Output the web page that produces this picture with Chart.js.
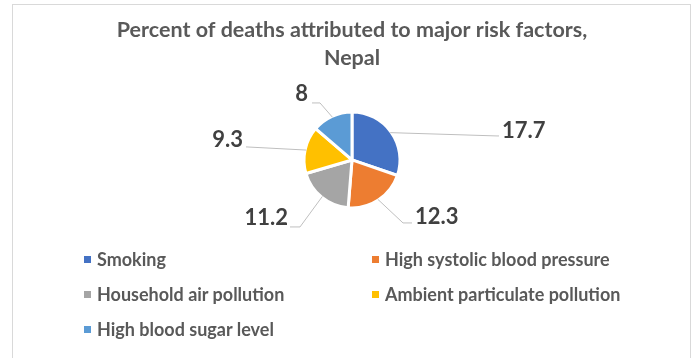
<!DOCTYPE html>
<html>
<head>
<meta charset="utf-8">
<script src="https://cdn.jsdelivr.net/npm/chart.js@4.4.1/dist/chart.umd.min.js"></script>
<style>
  html, body { margin: 0; padding: 0; background: #fff; }
  #wrap { position: relative; width: 697px; height: 358px; overflow: hidden; }
  #frame { position: absolute; left: 12px; top: 4px; width: 679px; height: 360px; border: 1px solid #d9d9d9; box-sizing: border-box; }
  #pie { position: absolute; left: 0; top: 0; }
  #legend {
    position: absolute; left: 84px; top: 248px;
    display: grid; grid-template-columns: 288px 300px; row-gap: 13px;
    font: bold 18px Lato, sans-serif; color: #595959;
  }
  #legend div { display: flex; align-items: center; height: 22px; white-space: nowrap; }
  #legend span.box { display: inline-block; width: 7px; height: 7px; margin-right: 6px; }
</style>
</head>
<body>
<div id="wrap">
  <div id="frame"></div>
  <canvas id="pie" width="697" height="358"></canvas>
  <div id="legend"></div>
</div>
<script>
const categories = ['Smoking', 'High systolic blood pressure', 'Household air pollution', 'Ambient particulate pollution', 'High blood sugar level'];
const values = [17.7, 12.3, 11.2, 9.3, 8];
const colors = ['#4472C4', '#ED7D31', '#A5A5A5', '#FFC000', '#5B9BD5'];

// where each value label sits, relative to the pie centre
const labelSpots = [
  { tx: 150, ty: -29, align: 'left',  ex: 145, ey: -24, hx: 147 },
  { tx: 63,  ty: 57,  align: 'left',  ex: 51,  ey: 63,  hx: 60 },
  { tx: -64, ty: 58,  align: 'right', ex: -52, ey: 67,  hx: -62 },
  { tx: -109, ty: -20, align: 'right', ex: -105, ey: -13, hx: -106 },
  { tx: -44, ty: -66, align: 'right', ex: -32, ey: -57, hx: -40 }
];

const leaderLabels = {
  id: 'leaderLabels',
  afterDatasetsDraw(chart) {
    const ctx = chart.ctx;
    const meta = chart.getDatasetMeta(0);
    ctx.save();
    meta.data.forEach((arc, i) => {
      const s = labelSpots[i];
      const mid = (arc.startAngle + arc.endAngle) / 2;
      const r = arc.outerRadius - 1;
      const sx = arc.x + Math.cos(mid) * r;
      const sy = arc.y + Math.sin(mid) * r;
      ctx.strokeStyle = '#bfbfbf';
      ctx.lineWidth = 1;
      ctx.beginPath();
      ctx.moveTo(sx, sy);
      ctx.lineTo(arc.x + s.ex, arc.y + s.ey);
      ctx.lineTo(arc.x + s.hx, arc.y + s.ey);
      ctx.stroke();
      ctx.fillStyle = '#404040';
      ctx.font = 'bold 22px Lato, sans-serif';
      ctx.textAlign = s.align;
      ctx.textBaseline = 'middle';
      ctx.fillText(String(values[i]), arc.x + s.tx, arc.y + s.ty);
    });
    ctx.restore();
  }
};

new Chart(document.getElementById('pie').getContext('2d'), {
  type: 'pie',
  data: {
    labels: categories,
    datasets: [{
      data: values,
      backgroundColor: colors,
      borderColor: '#ffffff',
      borderWidth: 3,
      radius: 48
    }]
  },
  options: {
    responsive: false,
    animation: false,
    layout: { padding: { left: 7, right: 0, top: 0, bottom: 148 } },
    plugins: {
      legend: { display: false },
      tooltip: { enabled: false },
      title: {
        display: true,
        text: ['Percent of deaths attributed to major risk factors,', 'Nepal'],
        color: '#595959',
        font: { family: 'Lato', size: 21.5, weight: 'bold', lineHeight: 1.3 },
        padding: { top: 16, bottom: 38 }
      }
    }
  },
  plugins: [leaderLabels]
});

const legend = document.getElementById('legend');
categories.forEach((name, i) => {
  const item = document.createElement('div');
  const box = document.createElement('span');
  box.className = 'box';
  box.style.background = colors[i];
  item.appendChild(box);
  item.appendChild(document.createTextNode(name));
  legend.appendChild(item);
});
</script>
</body>
</html>
